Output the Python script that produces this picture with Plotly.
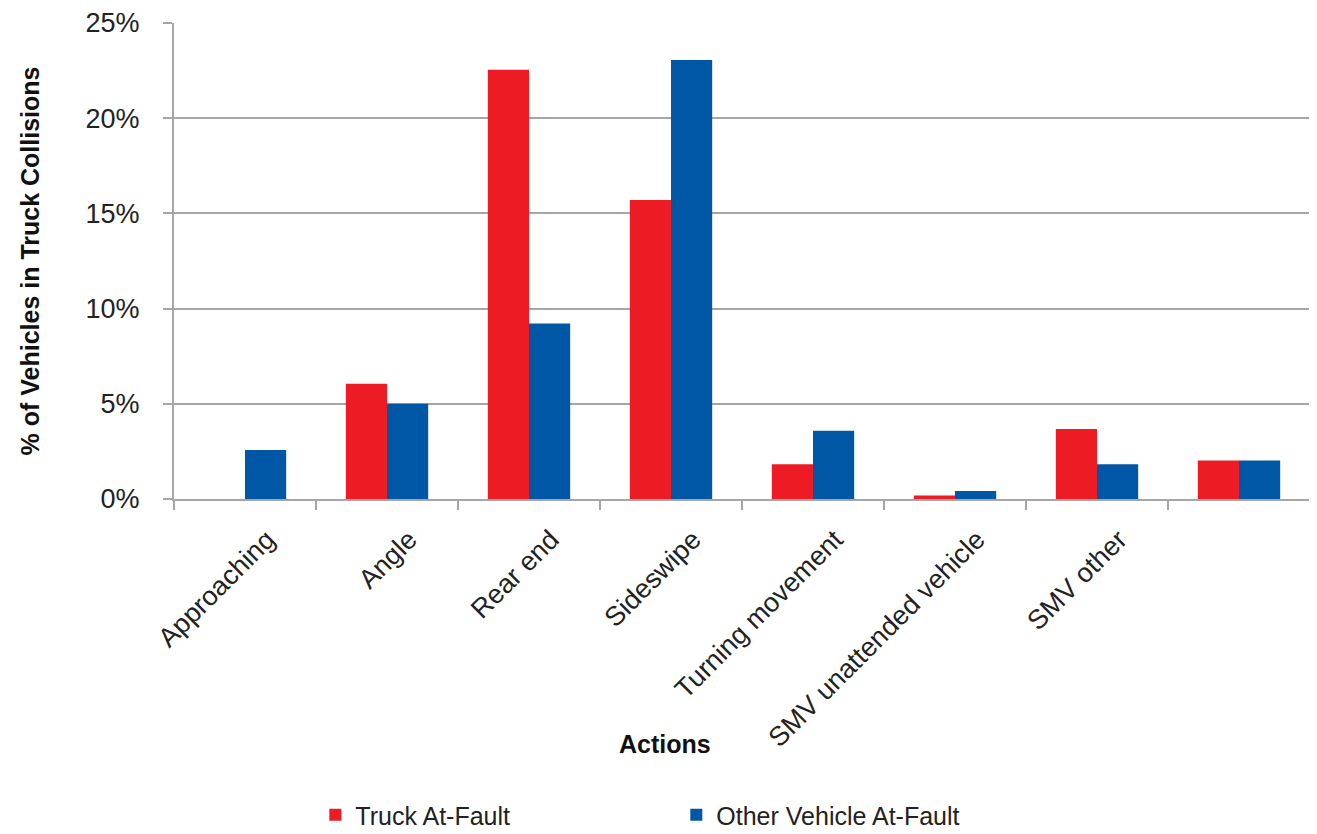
import plotly.graph_objects as go

# Data
actions = ["Approaching", "Angle", "Rear end", "Sideswipe", "Turning movement",
           "SMV unattended vehicle", "SMV other", " "]
truck_at_fault = [0.0, 6.05, 22.54, 15.7, 1.82, 0.18, 3.67, 2.02]
other_at_fault = [2.58, 5.0, 9.22, 23.06, 3.58, 0.42, 1.82, 2.02]

RED = "#ED1C24"
BLUE = "#0057A6"
GRID = "#A6A6A6"
FONT = "Liberation Sans, Arial, sans-serif"

fig = go.Figure()
fig.add_trace(go.Bar(x=actions, y=truck_at_fault, name="Truck At-Fault",
                     marker=dict(color=RED, line=dict(width=0))))
fig.add_trace(go.Bar(x=actions, y=other_at_fault, name="Other Vehicle At-Fault",
                     marker=dict(color=BLUE, line=dict(width=0))))

# page body has an 8px margin, so the figure is shifted; keep extra room at the bottom for the legend
fig.update_layout(
    width=1309, height=850,
    margin=dict(l=166, r=7, t=15, b=359),
    paper_bgcolor="white", plot_bgcolor="white",
    font=dict(family=FONT, color="#222222"),
    barmode="group", bargap=0.42, bargroupgap=0,
    showlegend=True,
    legend=dict(orientation="h", x=0.1244, xanchor="left", y=-0.664, yanchor="middle",
                font=dict(size=25, color="#222222"),
                entrywidth=316, entrywidthmode="pixels",
                itemwidth=30, traceorder="normal"),
    annotations=[dict(text="<b>Actions</b>", x=0.432, y=-0.515, xref="paper", yref="paper",
                      showarrow=False, font=dict(size=25, color="#111111"),
                      xanchor="center", yanchor="middle")],
)

fig.update_xaxes(
    type="category", showline=True, linecolor=GRID, linewidth=2,
    ticks="outside", tickson="boundaries", ticklen=9, tickcolor=GRID, tickwidth=2,
    tickangle=-45, tickfont=dict(size=27, color="#222222"),
    ticklabelshift=22, ticklabelstandoff=12,
    showgrid=False, zeroline=False, automargin=False,
)
fig.update_yaxes(
    range=[0, 25], dtick=5, ticksuffix="%",
    showline=True, linecolor=GRID, linewidth=2,
    ticks="outside", ticklen=9, tickcolor=GRID, tickwidth=2,
    tickfont=dict(size=27, color="#222222"), ticklabelstandoff=18,
    showgrid=True, gridcolor=GRID, gridwidth=2, zeroline=False, automargin=False,
    title=dict(text="<b>% of Vehicles in Truck Collisions</b>",
               font=dict(size=25, color="#111111"), standoff=39),
)

fig.write_html("out.html")
